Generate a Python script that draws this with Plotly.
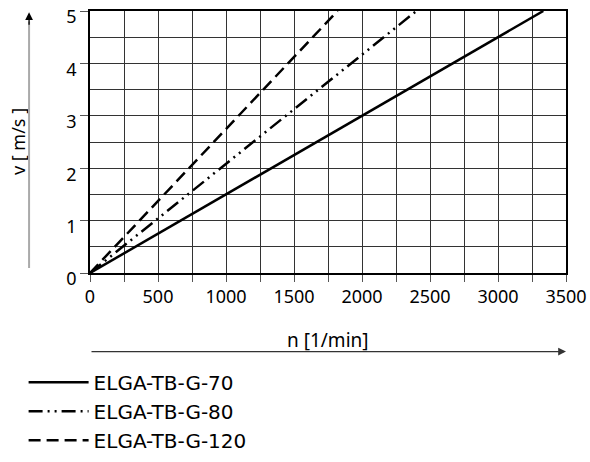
import plotly.graph_objects as go

# Data
n_70 = [0, 1000, 2000, 3000, 3333]
v_70 = [0, 1.5, 3.0, 4.5, 5.0]
n_80 = [0, 1200, 2400]
v_80 = [0, 2.5, 5.0]
n_120 = [0, 910, 1820]
v_120 = [0, 2.5, 5.0]
names = ["ELGA-TB-G-70", "ELGA-TB-G-80", "ELGA-TB-G-120"]
x_ticks = [0, 500, 1000, 1500, 2000, 2500, 3000, 3500]
y_ticks = [0, 1, 2, 3, 4, 5]

FONT = "Noto Sans"
fig = go.Figure()
fig.add_trace(go.Scatter(x=n_70, y=v_70, mode="lines", name=names[0], legendgroup="a",
                         line=dict(color="black", width=2.5)))
fig.add_trace(go.Scatter(x=n_80, y=v_80, mode="lines", name=names[1], legendgroup="b",
                         line=dict(color="black", width=2.5, dash="14px,5px,2px,5px,2px,5px")))
fig.add_trace(go.Scatter(x=n_120, y=v_120, mode="lines", name=names[2], legendgroup="c",
                         line=dict(color="black", width=2.5, dash="12px,6px")))

fig.update_layout(
    width=590, height=462,
    margin=dict(l=90, r=24, t=11, b=189, autoexpand=False),
    paper_bgcolor="white", plot_bgcolor="white",
    font=dict(family=FONT, size=18, color="black"),
    showlegend=True,
    legend=dict(xref="container", yref="container", x=0.04, xanchor="left",
                y=0.215, yanchor="top", itemwidth=60,
                font=dict(size=20, family="DejaVu Sans"), tracegroupgap=0,
                bgcolor="rgba(0,0,0,0)"),
    xaxis=dict(range=[0, 3500], tickvals=x_ticks, showgrid=True, gridcolor="#333",
               gridwidth=1, zeroline=False, showline=True, linecolor="black", linewidth=1.5,
               mirror=True,
               ticks="outside", ticklen=7, tickcolor="#555", automargin=False,
               ticklabeloverflow="allow",
               minor=dict(dtick=250, showgrid=True, gridcolor="#333", gridwidth=1,
                          ticks="outside", ticklen=7, tickcolor="#555"),
               tickfont=dict(size=18)),
    yaxis=dict(range=[0, 5], tickvals=y_ticks, showgrid=True, gridcolor="#333",
               gridwidth=1, zeroline=False, showline=True, linecolor="black", linewidth=1.5,
               mirror=True,
               ticks="outside", ticklen=8, tickcolor="#555", automargin=False,
               ticklabeloverflow="allow", ticklabelshift=6,
               minor=dict(dtick=0.5, showgrid=True, gridcolor="#333", gridwidth=1),
               tickfont=dict(size=18)),
)

# axis titles with arrows
fig.add_annotation(xref="paper", yref="paper", x=0.5, y=-0.255, text="n [1/min]",
                   showarrow=False, font=dict(size=19), xanchor="center", yanchor="middle")
fig.add_annotation(xref="paper", yref="paper", x=-0.151, y=0.5, text="v [ m/s ]",
                   showarrow=False, font=dict(size=18), textangle=-90,
                   xanchor="center", yanchor="middle")
# x arrow
fig.add_annotation(xref="paper", yref="paper", x=1.0, y=-0.3, ax=-476, ay=0,
                   text="", showarrow=True, arrowhead=2, arrowsize=1.2, arrowwidth=1.3,
                   arrowcolor="#333")
# y arrow: gray shaft plus black head
fig.add_annotation(xref="paper", yref="paper", x=-0.128, y=0.96, ax=0, ay=248,
                   text="", showarrow=True, arrowhead=0, arrowwidth=2,
                   arrowcolor="#aaa")
fig.add_annotation(xref="paper", yref="paper", x=-0.128, y=0.995, ax=0, ay=14,
                   text="", showarrow=True, arrowhead=2, arrowsize=1.2, arrowwidth=1.3,
                   arrowcolor="black")

fig.write_html("out.html")
